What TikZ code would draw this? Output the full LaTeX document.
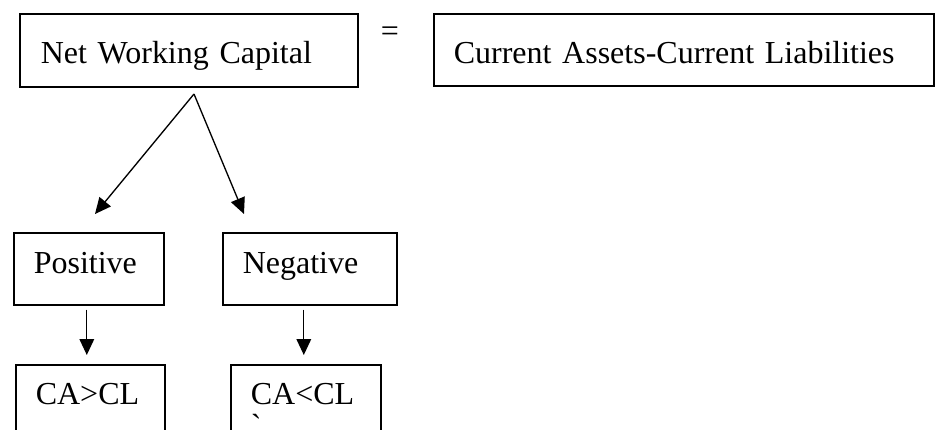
\documentclass[tikz,border=0pt]{standalone}
\usepackage{fontspec}
\setmainfont{Liberation Serif}
\newfontfamily\plainserif{Liberation Serif}
\usetikzlibrary{arrows.meta}

\begin{document}
\begin{tikzpicture}[x=0.75pt,y=-0.75pt,
    box/.style={draw,line width=1.2pt,anchor=north west,align=left,
      inner ysep=0pt,inner xsep=15pt,font=\fontsize{24}{28.5}\selectfont},
    arr/.style={line width=1pt,-{Triangle[length=12pt,width=11pt]}}]

\useasboundingbox (0,0) rectangle (939,429);
\clip (0,0) rectangle (939,429);

\node[box,text width=222pt,inner xsep=15.75pt,text height=37.5pt,text depth=17.25pt] (nwc) at (19,13) {Net Working Capital};
\node[box,text width=345pt,text height=37.5pt,text depth=16.5pt] (cacl) at (433,13) {Current Assets-Current Liabilities};
\node[anchor=base,inner sep=0pt,font=\fontsize{24}{28.5}\selectfont] (eq) at (390,41) {=};

\node[box,text width=82.5pt,text height=30.75pt,text depth=23.25pt] (pos) at (13,232) {Positive};
\node[box,text width=100.5pt,text height=30.75pt,text depth=23.25pt] (neg) at (222,232) {Negative};

\node[box,text width=81.75pt,text height=30pt,text depth=34.5pt] (gt) at (15,364) {CA>CL};
\node[box,text width=82.5pt,text height=30pt,text depth=34.5pt] (lt) at (230,364) {CA<CL\\[-4.5pt]{\plainserif`}};

\coordinate (top) at (194,94);
\coordinate (posin) at (95,214);
\coordinate (negin) at (244,214);

\draw[arr] (top) -- (posin);
\draw[arr] (top) -- (negin);
\draw[arr] ([shift={(-2,4)}]pos.south) -- ([shift={(-2,-9)}]pos.south |- gt.north);
\draw[arr] ([shift={(-6,4)}]neg.south) -- ([shift={(-6,-9)}]neg.south |- lt.north);
\end{tikzpicture}
\end{document}
